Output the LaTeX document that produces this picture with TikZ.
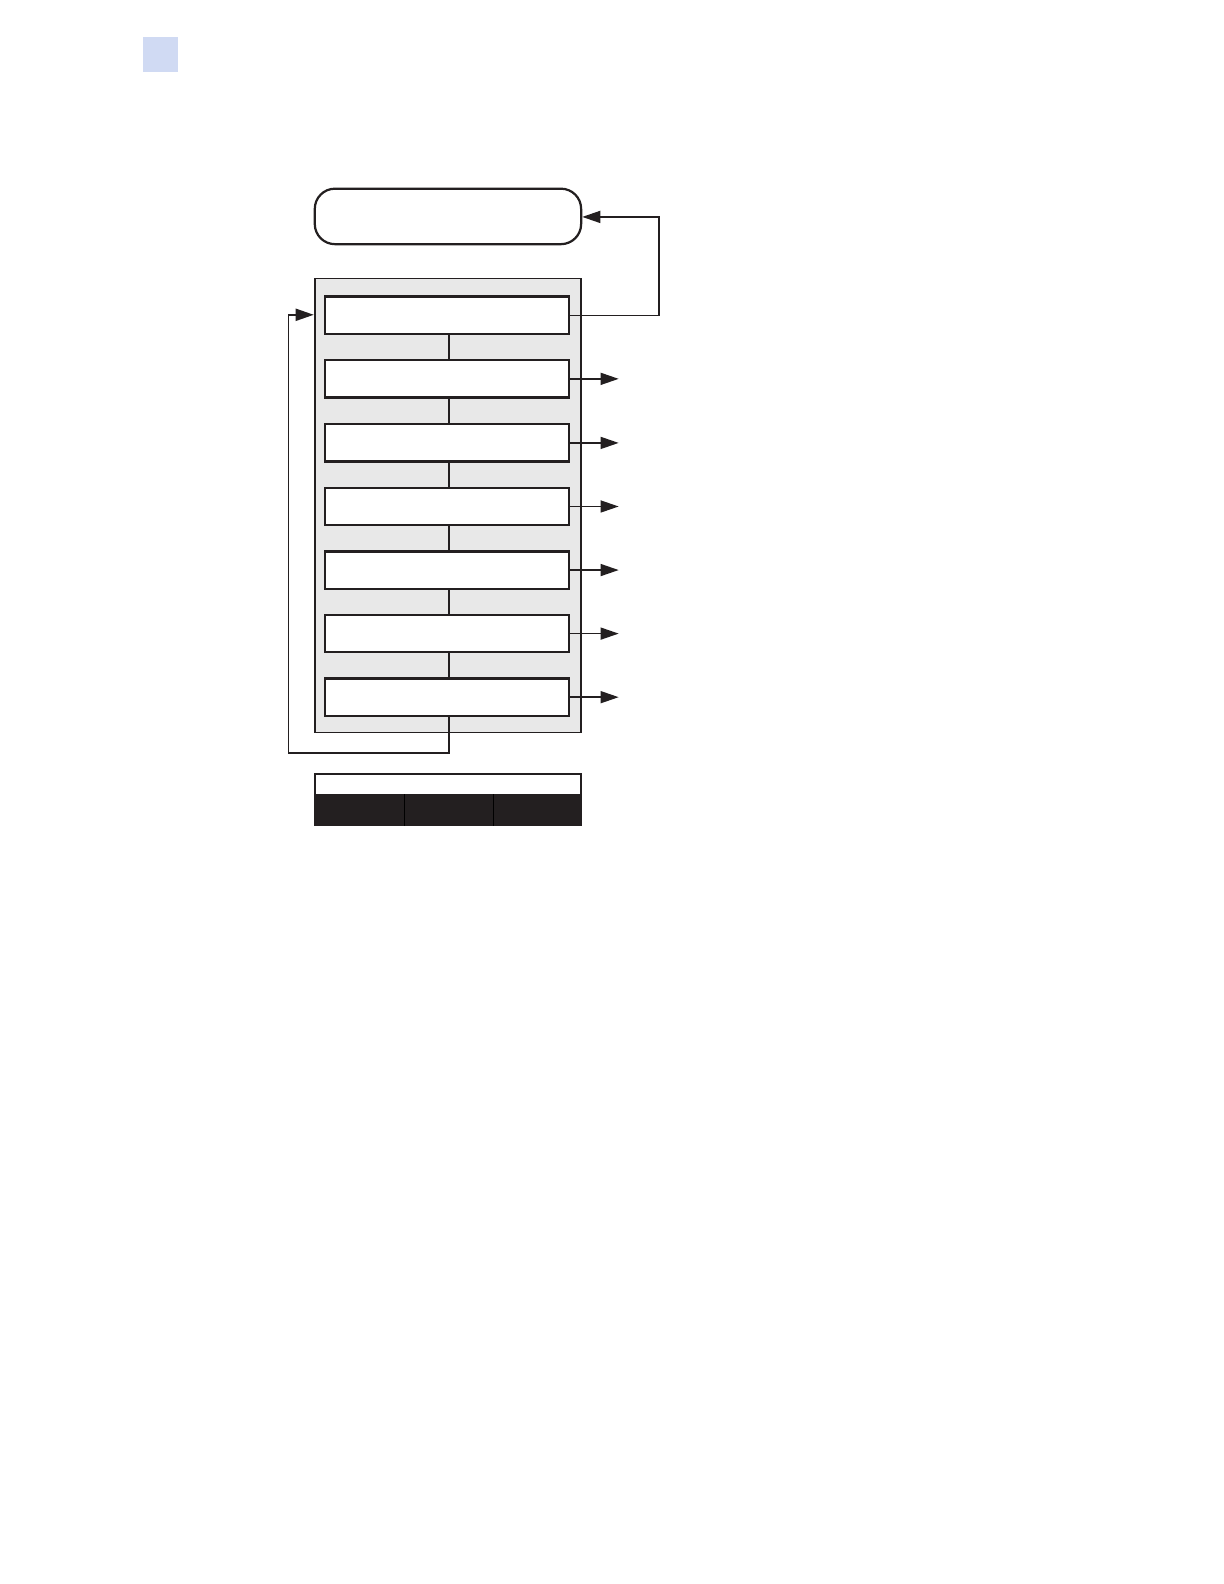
\documentclass[tikz,border=0pt]{standalone}
\usetikzlibrary{arrows.meta}
\definecolor{tabblue}{RGB}{208,218,243}
\definecolor{panelgray}{RGB}{232,232,232}
\definecolor{ink}{RGB}{35,31,32}
\tikzset{
  stepbox/.style={draw=ink, line width=1.2pt, fill=white},
  conn/.style={draw=ink, line width=0.7pt},
  arr/.style={conn, -{Triangle[length=9pt,width=6pt]}},
}
\begin{document}
\begin{tikzpicture}[x=0.5pt,y=-0.5pt]
\useasboundingbox (0,0) rectangle (1213,1570);
% tab
\fill[tabblue] (142,37) rectangle (176,71);
% top rounded box
\node[draw=ink, line width=1.1pt, rounded corners=10pt, minimum width=132pt, minimum height=27.5pt, inner sep=0pt] (top) at (444,214.5) {};
% panel
\node[draw=ink, line width=0.8pt, fill=panelgray, minimum width=132pt, minimum height=225pt, inner sep=0pt] (panel) at (444,501) {};
% steps
\foreach \i/\y in {1/312.5,2/375.5,3/439,4/502,5/565,6/628,7/691}{
  \node[stepbox, minimum width=121pt, minimum height=18.5pt, inner sep=0pt] (s\i) at (443,\y) {};
}
\foreach \a/\b in {1/2,2/3,3/4,4/5,5/6,6/7}{
  \draw[conn, line width=0.9pt] (s\a.south -| 445,0) -- (s\b.north -| 445,0);
}
% side arrows
\foreach \i in {2,...,7}{
  \coordinate (e\i) at ([xshift=24pt]s\i.east);
  \draw[arr] (s\i.east) -- (e\i);
}
% loop back to top box
\coordinate (r1) at (653,312.5);
\coordinate (r2) at (653,215);
\draw[arr] (s1.east) -- (r1) -- (r2) -- (top.east |- r2);
% loop from last step to first
\coordinate (b1) at (445,746);
\coordinate (b2) at (286,746);
\coordinate (b3) at (286,312);
\draw[conn, line width=0.9pt, -{Triangle[length=9pt,width=6pt]}] (s7.south -| b1) -- (b1) -- (b2) -- (b3) -- (311,312);
% bottom bar
\node[draw=ink, line width=1pt, fill=white, minimum width=132pt, minimum height=10.5pt, inner sep=0pt] (barTop) at (444,777.5) {};
\node[draw=ink, line width=1pt, fill=ink, minimum width=44pt, minimum height=15pt, inner sep=0pt] (k1) at (356,803) {};
\node[draw=ink, line width=1pt, fill=ink, minimum width=44pt, minimum height=15pt, inner sep=0pt] (k2) at (444,803) {};
\node[draw=ink, line width=1pt, fill=ink, minimum width=44pt, minimum height=15pt, inner sep=0pt] (k3) at (532,803) {};
\draw[black, line width=0.8pt] (k1.north east) -- (k1.south east);
\draw[black, line width=0.8pt] (k2.north east) -- (k2.south east);
\end{tikzpicture}
\end{document}
